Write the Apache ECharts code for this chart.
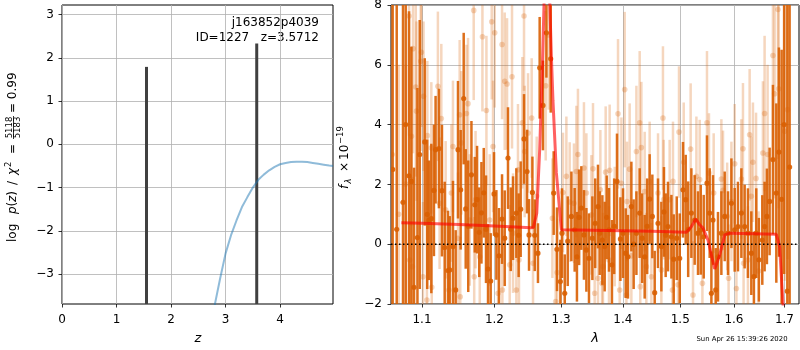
<!DOCTYPE html>
<html>
<head>
<meta charset="utf-8">
<script src="https://cdn.jsdelivr.net/npm/echarts@6/dist/echarts.min.js"></script>
<style>
  html, body { margin: 0; padding: 0; background: #fff; }
  #c { width: 800px; height: 350px; }
</style>
</head>
<body>
<div id="c"></div>
<script>
// ---- redshift panel ----
const zTicks = [0, 1, 2, 3, 4];
const logpTicks = [-3, -2, -1, 0, 1, 2, 3];
const zRange = [0, 4.97];
const logpRange = [-3.69, 3.22];
const zCurve = [2.70, 2.80, 2.90, 3.00, 3.10, 3.20, 3.30, 3.40, 3.50, 3.60, 3.70, 3.80, 3.90, 4.00, 4.10, 4.20, 4.30, 4.40, 4.50, 4.60, 4.70, 4.80, 4.90, 4.97];
const logpCurve = [-4.35, -3.72, -3.10, -2.52, -2.10, -1.76, -1.45, -1.22, -1.00, -0.82, -0.70, -0.60, -0.52, -0.46, -0.43, -0.41, -0.40, -0.40, -0.41, -0.43, -0.45, -0.47, -0.49, -0.50];
const peakZ = [1.55, 3.5712];
const peakLogp = [1.79, 2.33];
const objName = 'j163852p4039';
const objInfo = 'ID=1227   z=3.5712';

// ---- spectrum panel ----
const waveTicks = [1.1, 1.2, 1.3, 1.4, 1.5, 1.6, 1.7];
const fluxTicks = [-2, 0, 2, 4, 6, 8];
const waveRange = [1.0598, 1.730];
const fluxRange = [-2, 8];

const darkWave = [1.0619,1.0671,1.0752,1.0787,1.0830,1.0861,1.0895,1.0940,1.0970,1.1036,1.1069,1.1092,1.1124,1.1159,1.1181,1.1226,1.1267,1.1304,1.1349,1.1372,1.1417,1.1454,1.1486,1.1523,1.1565,1.1593,1.1628,1.1673,1.1720,1.1752,1.1783,1.1814,1.1847,1.1879,1.1908,1.1946,1.1994,1.2028,1.2066,1.2110,1.2149,1.2197,1.2237,1.2271,1.2320,1.2354,1.2384,1.2434,1.2479,1.2509,1.2560,1.2595,1.2644,1.2670,1.2720,1.2773,1.2839,1.2885,1.2936,1.2989,1.3014,1.3057,1.3104,1.3162,1.3214,1.3250,1.3285,1.3320,1.3362,1.3401,1.3443,1.3498,1.3544,1.3589,1.3617,1.3661,1.3699,1.3732,1.3770,1.3819,1.3856,1.3903,1.3960,1.4004,1.4049,1.4087,1.4145,1.4184,1.4231,1.4287,1.4330,1.4373,1.4416,1.4459,1.4506,1.4547,1.4605,1.4664,1.4710,1.4740,1.4781,1.4842,1.4883,1.4937,1.4991,1.5050,1.5099,1.5144,1.5202,1.5263,1.5324,1.5374,1.5429,1.5490,1.5540,1.5572,1.5602,1.5653,1.5696,1.5760,1.5823,1.5886,1.5951,1.6014,1.6077,1.6143,1.6207,1.6271,1.6337,1.6388,1.6435,1.6486,1.6554,1.6600,1.6646,1.6700,1.6767,1.6835,1.6888,1.6943,1.6994,1.7059,1.7106];
const darkFlux = [2.5,0.5,1.40,4.0,2.29,2.10,-1.44,0.22,3.0,3.42,1.0,0.80,0.86,1.80,3.16,3.20,1.79,-0.11,-0.88,-0.86,-0.08,-1.53,3.16,1.82,4.87,1.18,0.60,2.32,1.32,1.49,0.40,1.05,1.72,0.50,-0.83,-1.23,1.68,0.31,-0.39,0.84,0.20,2.88,0.50,0.87,1.04,0.30,1.17,3.52,2.43,0.31,1.73,0.30,-0.30,5.90,4.64,7.07,6.20,1.71,-0.17,-1.25,0.37,-1.64,0.10,0.93,0.48,-0.42,0.90,1.21,0.31,-0.19,-0.47,0.20,0.70,1.26,0.37,0.14,-0.08,0.90,0.48,-0.69,0.60,2.10,0.17,0.37,-0.30,-0.42,1.26,0.00,0.37,1.04,0.20,-0.42,0.60,1.51,0.93,-1.62,0.70,-0.08,1.08,0.30,0.59,0.25,-0.50,0.20,-0.47,1.82,1.49,0.50,1.04,0.81,0.37,0.48,0.25,2.04,1.04,-1.64,0.81,-1.53,-0.42,0.37,0.93,0.37,1.37,0.48,0.59,1.04,0.59,0.37,-0.30,-1.08,0.37,-0.52,0.14,0.59,0.93,1.43,2.83,1.71,3.08,1.50,4.00,-1.57,2.58];
const darkErr = [8,9,7,6,5.5,4.5,4.0,5.0,4.5,2.8,2.5,2.0,2.5,2.2,1.8,2.0,2.2,2.2,2.0,1.8,2.2,2.0,2.3,2.0,2.2,2.0,2.2,1.8,1.6,1.8,1.5,1.7,1.5,1.8,1.5,1.6,1.4,1.5,1.6,1.5,1.6,1.7,1.4,1.4,1.5,1.4,1.6,1.5,1.4,1.2,1.2,1.2,1.0,1.7,1.5,1.5,1.8,1.4,1.4,1.4,1.5,1.3,1.5,1.5,1.4,1.5,1.6,1.4,1.5,1.4,1.5,1.4,1.5,1.4,1.4,1.5,1.5,1.4,1.4,1.5,1.6,1.6,1.4,1.5,1.5,1.4,1.5,1.5,1.4,1.5,1.5,1.4,1.6,1.5,1.4,1.4,1.5,1.5,1.5,1.4,1.5,1.4,1.5,1.4,1.5,1.6,1.5,1.6,1.5,1.5,1.4,1.5,1.4,1.6,1.5,1.4,1.5,1.4,1.5,1.4,1.5,1.4,1.5,1.4,1.5,1.5,1.4,1.5,1.4,1.5,1.5,1.4,1.5,1.5,1.6,1.8,2.5,3.0,3.5,5.0,5.0,10,12];

const lightWave = [1.0613,1.0696,1.0787,1.0830,1.0839,1.0861,1.0874,1.0882,1.0918,1.0927,1.0983,1.0992,1.1013,1.1020,1.1065,1.1071,1.1124,1.1130,1.1212,1.1235,1.1258,1.1317,1.1362,1.1395,1.1417,1.1486,1.1509,1.1517,1.1533,1.1603,1.1625,1.1649,1.1705,1.1712,1.1731,1.1790,1.1828,1.1885,1.1932,1.1961,1.1980,1.2004,1.2052,1.2110,1.2115,1.2149,1.2183,1.2222,1.2256,1.2271,1.2320,1.2344,1.2359,1.2409,1.2434,1.2444,1.2494,1.2549,1.2569,1.2625,1.2762,1.2808,1.2865,1.2916,1.2939,1.3030,1.3083,1.3135,1.3203,1.3241,1.3266,1.3362,1.3401,1.3482,1.3508,1.3535,1.3589,1.3628,1.3655,1.3671,1.3715,1.3770,1.3781,1.3865,1.3920,1.3948,1.3977,1.4032,1.4061,1.4071,1.4116,1.4145,1.4231,1.4287,1.4297,1.4316,1.4373,1.4402,1.4459,1.4489,1.4605,1.4664,1.4692,1.4705,1.4811,1.4860,1.4870,1.4960,1.4978,1.5063,1.5189,1.5232,1.5294,1.5355,1.5405,1.5490,1.5527,1.5615,1.5760,1.5791,1.5870,1.5897,1.5951,1.6014,1.6047,1.6143,1.6174,1.6186,1.6271,1.6304,1.6337,1.6369,1.6430,1.6480,1.6566,1.6600,1.6660,1.6767,1.6801,1.6868,1.6882,1.7004,1.7065];
const lightFlux = [3.0,1.0,2.01,7.63,-0.53,3.61,-0.75,6.54,5.26,4.45,6.12,6.42,-1.09,4.95,-1.87,3.63,3.22,-1.44,5.28,1.37,4.20,1.15,-1.53,1.71,3.27,0.20,4.33,-1.76,3.39,4.37,4.70,0.81,7.82,-1.09,1.49,-0.42,6.94,4.47,0.81,7.44,3.27,7.07,-1.64,6.68,-1.53,5.45,5.36,-0.69,5.60,0.37,-1.53,2.49,-0.53,4.06,7.63,3.10,3.72,4.22,-0.64,1.60,5.30,7.00,0.87,-1.92,-0.95,1.73,2.27,1.41,1.37,2.43,3.00,2.55,1.71,0.98,2.52,-1.64,-1.14,1.82,-1.31,-0.75,2.41,-0.53,2.47,0.59,4.36,-1.53,2.04,5.17,-1.70,1.43,2.51,-0.39,3.10,4.06,-1.42,3.23,1.76,-0.75,2.10,-1.09,1.71,-0.86,4.22,1.49,1.49,-1.53,2.10,-1.36,3.75,2.74,3.18,-1.70,2.27,2.16,-1.31,4.06,2.38,1.71,2.18,1.80,0.93,-1.14,1.43,2.69,-1.48,2.18,3.19,-0.64,-0.53,3.66,1.60,2.74,2.20,-0.90,3.05,4.37,3.00,6.31,5.03,7.85,5.20,3.78,4.50];
const lightErr = [6,5,4,4,3,3,3,3.5,3,3,3,2.5,2.5,2.5,2.5,2.5,2.2,2.2,2.5,2.2,2.5,2.3,2.0,2.3,2.2,2.2,2.5,2.0,2.4,2.3,2.2,2.2,3.0,2.0,2.3,2.0,2.5,2.5,2.2,2.6,2.2,2.5,2.0,2.5,2.0,2.3,2.2,2.0,2.4,2.0,2.0,2.2,2.0,2.2,2.5,2.2,2.0,2.0,1.8,2.0,2.5,2.5,2.0,1.8,1.8,2.0,2.0,2.0,2.0,2.2,2.2,2.2,2.0,2.0,2.2,1.8,1.8,2.0,1.8,1.8,2.2,1.8,2.2,2.0,2.5,1.8,2.2,2.6,1.8,2.0,2.2,1.8,2.2,2.4,1.8,2.2,2.0,1.8,2.0,1.8,2.0,1.8,2.4,2.0,2.0,1.8,2.0,1.8,2.2,2.0,2.2,1.8,2.0,2.0,1.8,2.4,2.0,2.0,2.0,2.0,1.8,1.8,2.0,2.0,1.8,2.0,2.2,1.8,1.8,2.2,2.0,2.0,2.2,2.0,2.4,2.6,3.0,3.5,3.5,5.0,4.0,5.0,5.0];

const modelWave = [1.0731,1.1000,1.1500,1.2000,1.2543,1.2575,1.2626,1.2670,1.2711,1.2736,1.2780,1.2823,1.2849,1.2874,1.2926,1.3004,1.3500,1.4000,1.4500,1.5111,1.5200,1.5282,1.5350,1.5416,1.5508,1.5634,1.5728,1.5823,1.5918,1.6400,1.6835,1.6902,1.6970,1.7010];
const modelFlux = [0.72,0.70,0.66,0.61,0.55,0.56,1.04,3.16,5.95,8.00,11.0,8.20,6.30,4.80,2.40,0.48,0.47,0.45,0.43,0.40,0.58,0.84,0.66,0.54,0.14,-0.83,-0.36,0.31,0.37,0.35,0.33,-0.08,-1.98,-3.00];

const stamp = 'Sun Apr 26 15:39:26 2020';

// ---- styles ----
const FONT = 'DejaVu Sans';
const GRIDC = '#b0b0b0';
const ORANGE_DARK = 'rgba(217,95,2,0.9)';
const ORANGE_LIGHT = 'rgba(217,95,2,0.26)';
const lg = Math.log10;
const signed = v => (v < 0 ? '\u2212' + Math.abs(v) : String(v));

function errorBars(color, lw, r) {
  return function (params, api) {
    const x = api.value(0), y = api.value(1), e = api.value(2);
    const lo = api.coord([x, y - e]);
    const hi = api.coord([x, y + e]);
    const c = api.coord([x, y]);
    return {
      type: 'group',
      children: [
        { type: 'line', shape: { x1: lo[0], y1: lo[1], x2: hi[0], y2: hi[1] }, style: { stroke: color, lineWidth: lw } },
        { type: 'circle', shape: { cx: c[0], cy: c[1], r: r }, style: { fill: color } }
      ]
    };
  };
}

function axisCommon(ticks, fmt, margin) {
  return {
    axisLine: { show: false, onZero: false },
    axisTick: { show: true, inside: false, length: 3.5, customValues: ticks, lineStyle: { color: '#000', width: 0.8 } },
    axisLabel: { customValues: ticks, color: '#000', fontSize: 12, fontFamily: FONT, margin: margin, formatter: fmt },
    splitLine: { show: true, lineStyle: { color: GRIDC, width: 0.8 } }
  };
}

const chart = echarts.init(document.getElementById('c'), null, { renderer: 'canvas' });

const option = {
  animation: false,
  backgroundColor: '#fff',
  grid: [
    { left: 62, top: 5, width: 271, height: 299, show: true, borderColor: '#000', borderWidth: 1, backgroundColor: 'transparent', containLabel: false, outerBoundsMode: 'none' },
    { left: 391, top: 5, width: 408, height: 299, show: true, borderColor: '#000', borderWidth: 1, backgroundColor: 'transparent', containLabel: false, outerBoundsMode: 'none' }
  ],
  xAxis: [
    Object.assign({ type: 'value', gridIndex: 0, min: zRange[0], max: zRange[1] }, axisCommon(zTicks, signed, 10)),
    Object.assign({ type: 'value', gridIndex: 1, min: lg(waveRange[0]), max: lg(waveRange[1]) },
      axisCommon(waveTicks.map(lg), v => Math.pow(10, v).toFixed(1), 10))
  ],
  yAxis: [
    Object.assign({ type: 'value', gridIndex: 0, min: logpRange[0], max: logpRange[1] }, axisCommon(logpTicks, signed, 8)),
    Object.assign({ type: 'value', gridIndex: 1, min: fluxRange[0], max: fluxRange[1] }, axisCommon(fluxTicks, signed, 9))
  ],
  series: [
    // p(z) curve
    {
      type: 'line', xAxisIndex: 0, yAxisIndex: 0, symbol: 'none', clip: true,
      data: zCurve.map((z, i) => [z, logpCurve[i]]),
      lineStyle: { color: 'rgba(31,119,180,0.5)', width: 2 }
    },
    // redshift markers
    {
      type: 'custom', xAxisIndex: 0, yAxisIndex: 0, clip: true,
      data: peakZ.map((z, i) => [z, peakLogp[i]]),
      renderItem: function (params, api) {
        const top = api.coord([api.value(0), api.value(1)]);
        const bot = api.coord([api.value(0), logpRange[0]]);
        return { type: 'line', shape: { x1: top[0], y1: top[1], x2: bot[0], y2: bot[1] + 2 }, style: { stroke: '#404040', lineWidth: 3 } };
      }
    },
    // spectrum, faint set
    {
      type: 'custom', xAxisIndex: 1, yAxisIndex: 1, clip: true,
      data: lightWave.map((w, i) => [lg(w), lightFlux[i], lightErr[i]]),
      renderItem: errorBars(ORANGE_LIGHT, 2.5, 2.8)
    },
    // spectrum, main set
    {
      type: 'custom', xAxisIndex: 1, yAxisIndex: 1, clip: true,
      data: darkWave.map((w, i) => [lg(w), darkFlux[i], darkErr[i]]),
      renderItem: errorBars(ORANGE_DARK, 2.5, 2.6)
    },
    // model
    {
      type: 'line', xAxisIndex: 1, yAxisIndex: 1, symbol: 'none', clip: true,
      data: modelWave.map((w, i) => [lg(w), modelFlux[i]]),
      lineStyle: { color: 'rgba(255,0,0,0.62)', width: 3 }
    },
    // zero level
    {
      type: 'line', xAxisIndex: 1, yAxisIndex: 1, symbol: 'none', clip: true,
      data: [[lg(waveRange[0]), 0], [lg(waveRange[1]), 0]],
      lineStyle: { color: '#000', width: 1.5, type: [1.5, 2.5] }
    }
  ],
  graphic: [
    { type: 'text', x: 319, y: 23, style: { text: objName, fontSize: 12, fontFamily: FONT, fill: '#000', align: 'right', verticalAlign: 'middle' } },
    { type: 'text', x: 319, y: 38, style: { text: objInfo, fontSize: 12, fontFamily: FONT, fill: '#000', align: 'right', verticalAlign: 'middle' } },
    { type: 'text', x: 198, y: 339, style: { text: 'z', fontSize: 13, fontFamily: FONT, fontStyle: 'italic', fill: '#000', align: 'center', verticalAlign: 'middle' } },
    { type: 'text', x: 595, y: 339, style: { text: 'λ', fontSize: 13, fontFamily: FONT, fontStyle: 'italic', fill: '#000', align: 'center', verticalAlign: 'middle' } },
    { type: 'text', x: 742, y: 339, style: { text: stamp, fontSize: 6.9, fontFamily: FONT, fill: '#000', align: 'center', verticalAlign: 'middle' } },
    // left axis title, reading upwards
    {
      type: 'group', x: 13, y: 242, rotation: Math.PI / 2,
      children: [
        { type: 'text', x: 0, y: 0, style: { text: 'log', fontSize: 12, fontFamily: FONT, fill: '#000', align: 'left', verticalAlign: 'middle' } },
        { type: 'text', x: 28, y: 0, style: { text: '{i|p}(', fontSize: 12, fontFamily: FONT, fill: '#000', align: 'left', verticalAlign: 'middle', rich: { i: { fontStyle: 'italic', fontSize: 12, fontFamily: FONT } } } },
        { type: 'text', x: 40, y: 0, style: { text: '{i|z})', fontSize: 12, fontFamily: FONT, fill: '#000', align: 'left', verticalAlign: 'middle', rich: { i: { fontStyle: 'italic', fontSize: 12, fontFamily: FONT } } } },
        { type: 'text', x: 57, y: 0, style: { text: '/', fontSize: 12, fontFamily: FONT, fill: '#000', align: 'left', verticalAlign: 'middle' } },
        { type: 'text', x: 67, y: 0, style: { text: 'χ', fontSize: 12, fontFamily: FONT, fontStyle: 'italic', fill: '#000', align: 'left', verticalAlign: 'middle' } },
        { type: 'text', x: 75, y: -4.5, style: { text: '2', fontSize: 8.5, fontFamily: FONT, fill: '#000', align: 'left', verticalAlign: 'middle' } },
        { type: 'text', x: 88, y: 0, style: { text: '=', fontSize: 12, fontFamily: FONT, fill: '#000', align: 'left', verticalAlign: 'middle' } },
        { type: 'text', x: 114.5, y: -3.5, style: { text: '5118', fontSize: 8.5, fontFamily: FONT, fill: '#000', align: 'center', verticalAlign: 'middle' } },
        { type: 'line', shape: { x1: 103, y1: 0.5, x2: 126, y2: 0.5 }, style: { stroke: '#000', lineWidth: 0.8 } },
        { type: 'text', x: 114.5, y: 4.5, style: { text: '5183', fontSize: 8.5, fontFamily: FONT, fill: '#000', align: 'center', verticalAlign: 'middle' } },
        { type: 'text', x: 129, y: 0, style: { text: '= 0.99', fontSize: 12, fontFamily: FONT, fill: '#000', align: 'left', verticalAlign: 'middle' } }
      ]
    },
    // right axis title, reading upwards
    {
      type: 'group', x: 345, y: 189, rotation: Math.PI / 2,
      children: [
        { type: 'text', x: 0, y: 0, style: { text: 'f', fontSize: 12, fontFamily: FONT, fontStyle: 'italic', fill: '#000', align: 'left', verticalAlign: 'middle' } },
        { type: 'text', x: 5.5, y: 3.5, style: { text: 'λ', fontSize: 8.5, fontFamily: FONT, fontStyle: 'italic', fill: '#000', align: 'left', verticalAlign: 'middle' } },
        { type: 'text', x: 17, y: 0, style: { text: '×', fontSize: 12, fontFamily: FONT, fill: '#000', align: 'left', verticalAlign: 'middle' } },
        { type: 'text', x: 29, y: 0, style: { text: '10', fontSize: 12, fontFamily: FONT, fill: '#000', align: 'left', verticalAlign: 'middle' } },
        { type: 'text', x: 45, y: -4.5, style: { text: '\u221219', fontSize: 8.5, fontFamily: FONT, fill: '#000', align: 'left', verticalAlign: 'middle' } }
      ]
    }
  ]
};

chart.setOption(option);
</script>
</body>
</html>
